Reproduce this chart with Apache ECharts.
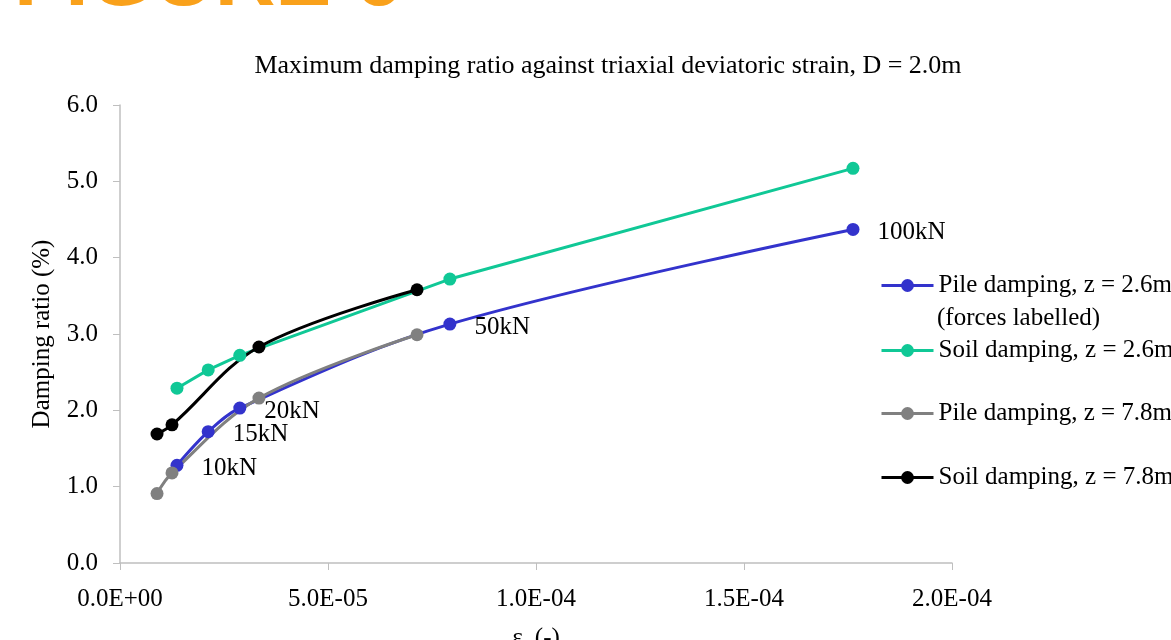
<!DOCTYPE html>
<html>
<head>
<meta charset="utf-8">
<script src="https://cdn.jsdelivr.net/npm/echarts@6/dist/echarts.min.js"></script>
<style>
  html, body { margin: 0; padding: 0; background: #fff; }
  #main { width: 1171px; height: 640px; }
</style>
</head>
<body>
<div id="main"></div>
<script>
    // strain values for the z = 2.6m gauges, with the applied force at each step
    var strainZ26 = [1.37e-5, 2.12e-5, 2.88e-5, 7.93e-5, 1.762e-4];
    var pileZ26 = [1.28, 1.72, 2.03, 3.13, 4.37];
    var soilZ26 = [2.29, 2.53, 2.72, 3.72, 5.17];
    var forceLabels = ['10kN', '15kN', '20kN', '50kN', '100kN'];

    // strain values for the z = 7.8m gauges
    var strainZ78 = [0.89e-5, 1.25e-5, 3.34e-5, 7.14e-5];
    var pileZ78 = [0.91, 1.18, 2.16, 2.99];
    var soilZ78 = [1.69, 1.81, 2.83, 3.58];

    var seriesNames = [
        'Pile damping, z = 2.6m',
        'Soil damping, z = 2.6m',
        'Pile damping, z = 7.8m',
        'Soil damping, z = 7.8m'
    ];
    var colors = ['#3333CC', '#10C896', '#808080', '#000000'];

    function pairs(xs, ys) {
        return xs.map(function (x, i) { return [x, ys[i]]; });
    }

    var serif = '"Liberation Serif", "Times New Roman", serif';
    var fs = 25;
    var legendTops = [273, 338, 401, 465];

    var myChart = echarts.init(document.getElementById('main'));
    option = {
        animation: false,
        textStyle: { fontFamily: serif },
        title: {
            text: 'Maximum damping ratio against triaxial deviatoric strain, D = 2.0m',
            left: 603,
            textAlign: 'center',
            top: 48,
            textStyle: { fontFamily: serif, fontSize: 26, fontWeight: 'normal', color: '#000' }
        },
        graphic: [
            {
                type: 'text',
                left: 14,
                top: -60,
                style: {
                    text: 'FIGURE 6',
                    font: 'bold 84px "Liberation Sans", Arial, sans-serif',
                    fill: '#F9A11B'
                }
            },
            {
                type: 'text',
                left: 937,
                top: 306,
                style: {
                    text: '(forces labelled)',
                    font: fs + 'px ' + serif,
                    fill: '#000'
                }
            }
        ],
        legend: seriesNames.map(function (name, i) {
            return {
                data: [name],
                left: 880,
                top: legendTops[i],
                padding: 0,
                itemWidth: 52,
                itemHeight: 16,
                lineStyle: { width: 3 },
                textStyle: { fontFamily: serif, fontSize: fs, color: '#000' }
            };
        }),
        grid: { left: 120, right: 219, top: 105, bottom: 77, outerBoundsMode: 'none' },
        xAxis: {
            type: 'value',
            min: 0,
            max: 2e-4,
            interval: 5e-5,
            name: '{e|ε}{s|s} (-)',
            nameLocation: 'middle',
            nameGap: 62,
            nameTextStyle: {
                fontFamily: serif, fontSize: fs, color: '#000',
                rich: {
                    e: { fontFamily: serif, fontSize: fs, color: '#000' },
                    s: { fontFamily: serif, fontSize: 15, color: '#000', verticalAlign: 'bottom', padding: [12, 0, 0, 0] }
                }
            },
            axisLine: { lineStyle: { color: '#BFBFBF', width: 1.5 } },
            axisTick: { show: true, length: 7, lineStyle: { color: '#BFBFBF' } },
            axisLabel: {
                fontFamily: serif, fontSize: fs, color: '#000', margin: 24,
                formatter: function (v) {
                    var s = v.toExponential(1).toUpperCase();
                    return s.replace(/E([+-])(\d)$/, 'E$10$2');
                }
            },
            splitLine: { show: false }
        },
        yAxis: {
            type: 'value',
            min: 0,
            max: 6,
            interval: 1,
            name: 'Damping ratio (%)',
            nameLocation: 'middle',
            nameGap: 65,
            nameTextStyle: { fontFamily: serif, fontSize: fs, color: '#000' },
            axisLine: { show: true, lineStyle: { color: '#BFBFBF', width: 1.5 } },
            axisTick: { show: true, length: 7, lineStyle: { color: '#BFBFBF' } },
            axisLabel: {
                fontFamily: serif, fontSize: fs, color: '#000', margin: 22,
                formatter: function (v) { return v.toFixed(1); }
            },
            splitLine: { show: false }
        },
        series: [
            {
                name: seriesNames[0],
                type: 'line',
                data: pairs(strainZ26, pileZ26),
                smooth: 0.35,
                symbol: 'circle',
                symbolSize: 13,
                lineStyle: { width: 3, color: colors[0] },
                itemStyle: { color: colors[0] },
                label: {
                    show: true,
                    position: 'right',
                    distance: 18,
                    offset: [0, 3],
                    fontFamily: serif,
                    fontSize: fs,
                    color: '#000',
                    formatter: function (p) { return forceLabels[p.dataIndex]; }
                }
            },
            {
                name: seriesNames[1],
                type: 'line',
                data: pairs(strainZ26, soilZ26),
                symbol: 'circle',
                symbolSize: 13,
                lineStyle: { width: 3, color: colors[1] },
                itemStyle: { color: colors[1] }
            },
            {
                name: seriesNames[2],
                type: 'line',
                data: pairs(strainZ78, pileZ78),
                smooth: 0.35,
                symbol: 'circle',
                symbolSize: 13,
                lineStyle: { width: 3, color: colors[2] },
                itemStyle: { color: colors[2] }
            },
            {
                name: seriesNames[3],
                type: 'line',
                data: pairs(strainZ78, soilZ78),
                smooth: 0.35,
                symbol: 'circle',
                symbolSize: 13,
                lineStyle: { width: 3, color: colors[3] },
                itemStyle: { color: colors[3] }
            }
        ]
    };
    myChart.setOption(option);
</script>
</body>
</html>
